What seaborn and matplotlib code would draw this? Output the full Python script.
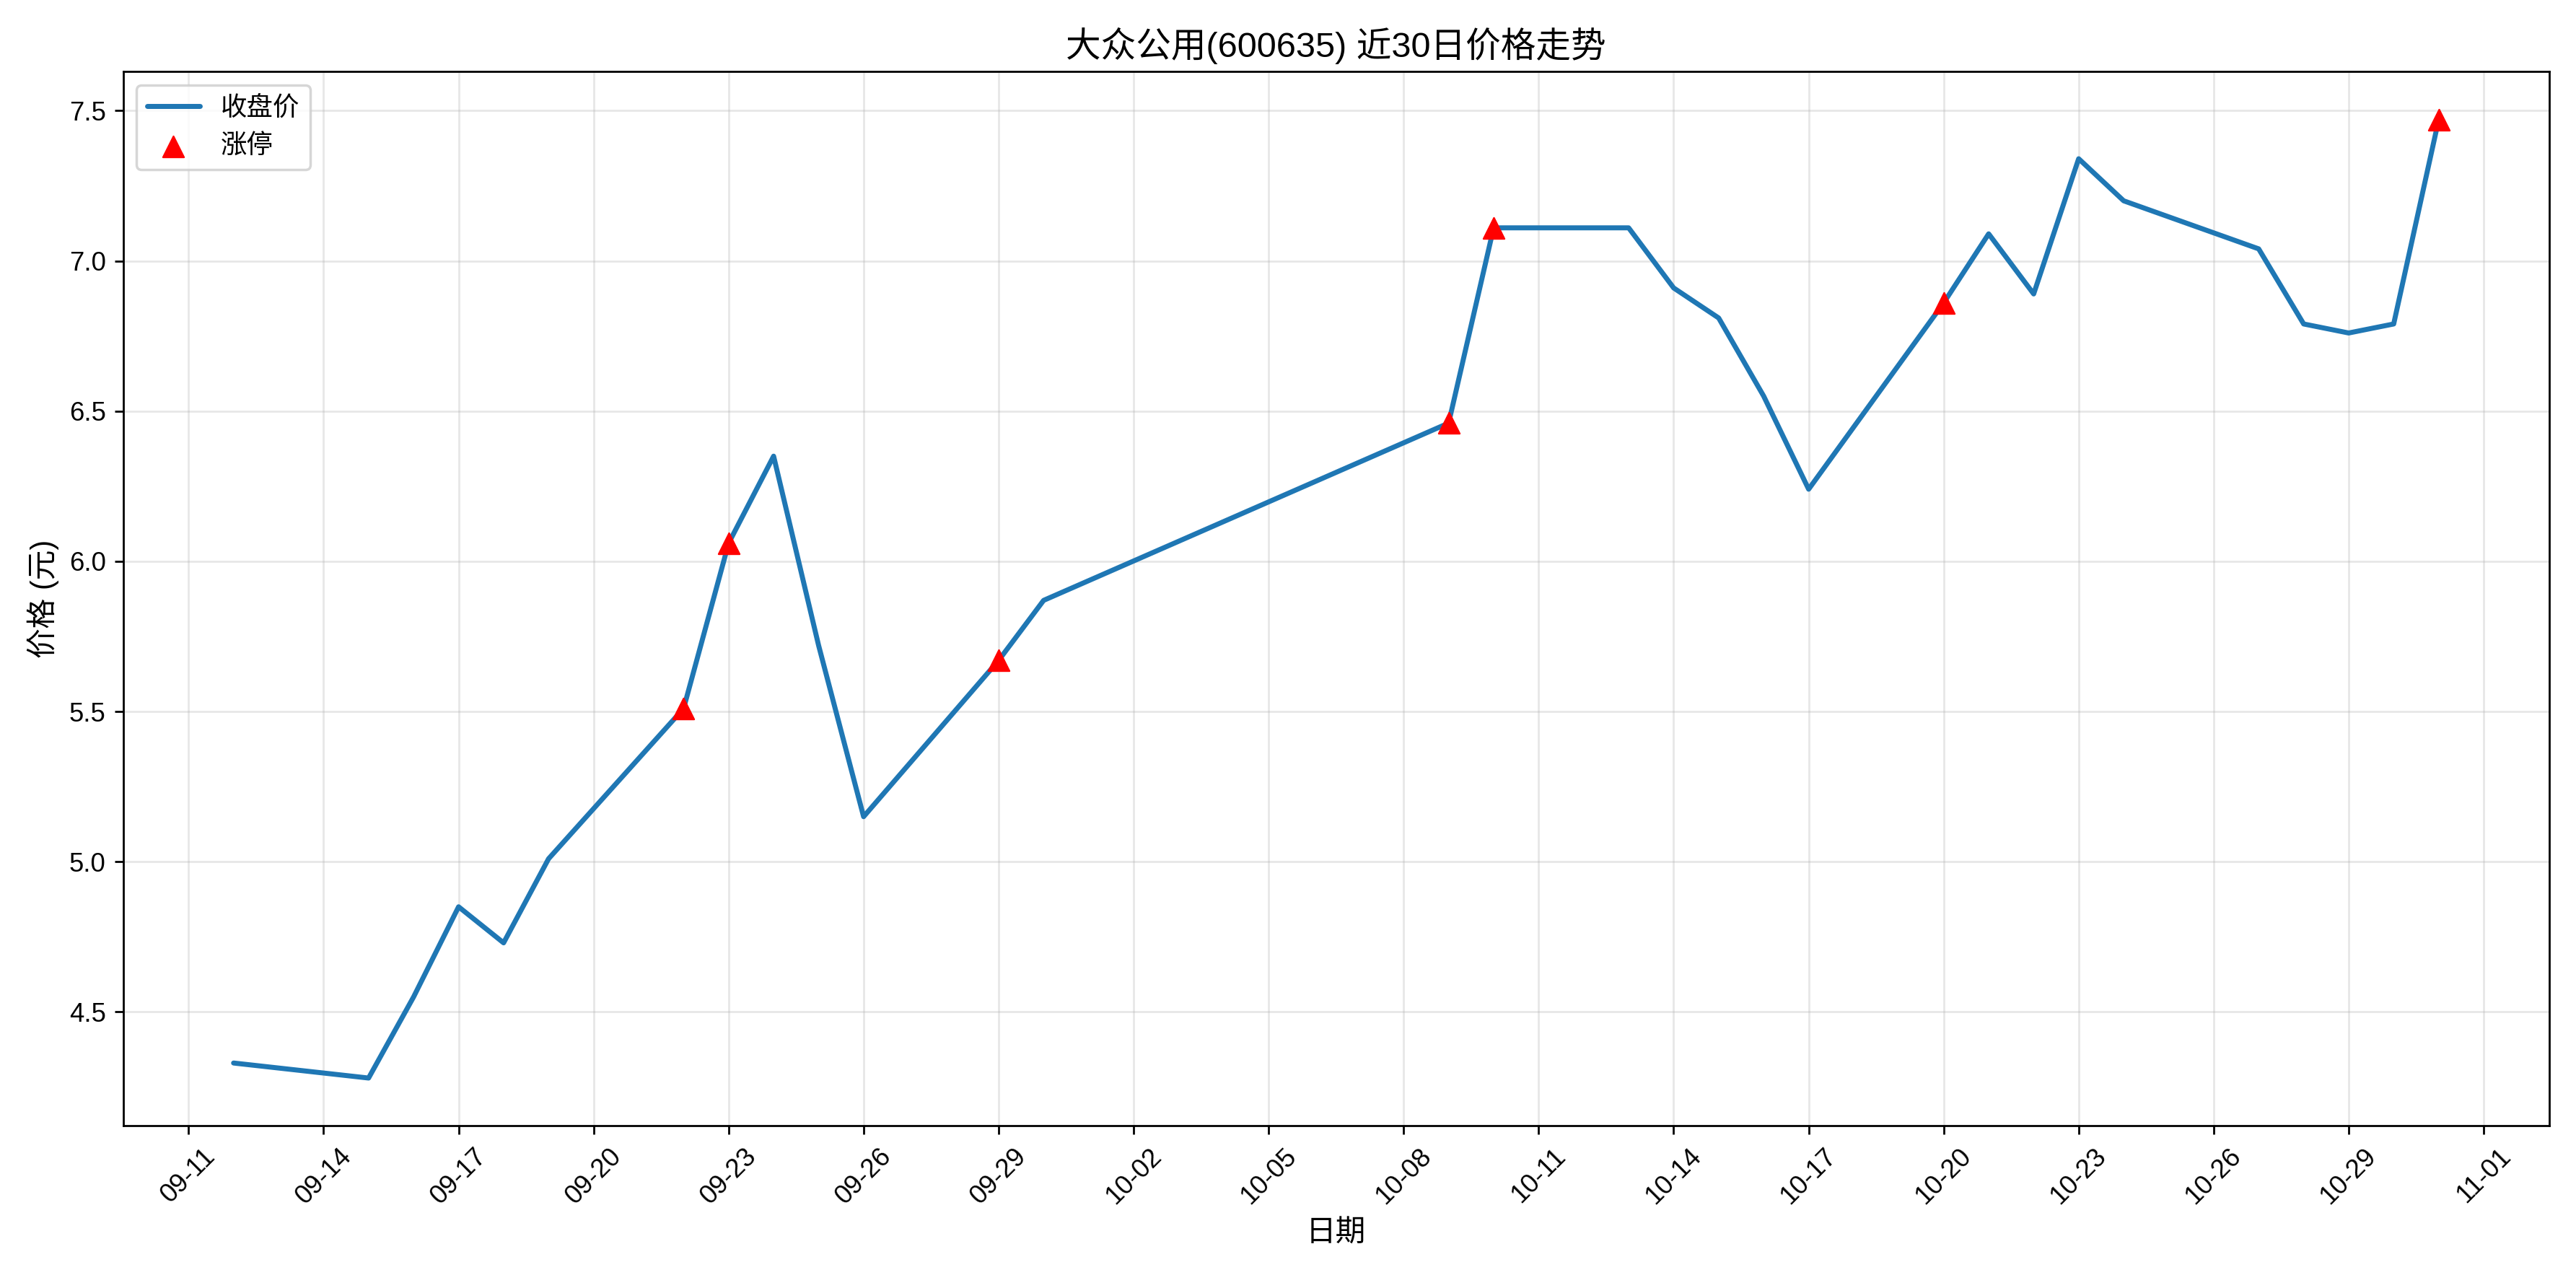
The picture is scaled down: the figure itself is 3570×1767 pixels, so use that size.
import pandas as pd
import matplotlib
matplotlib.use("Agg")
import matplotlib.pyplot as plt
import matplotlib.dates as mdates
import seaborn as sns

dates = ["09-12", "09-15", "09-16", "09-17", "09-18", "09-19", "09-22", "09-23", "09-24", "09-25",
         "09-26", "09-29", "09-30", "10-09", "10-10", "10-13", "10-14", "10-15", "10-16", "10-17",
         "10-20", "10-21", "10-22", "10-23", "10-24", "10-27", "10-28", "10-29", "10-30", "10-31"]
close = [4.33, 4.28, 4.55, 4.85, 4.73, 5.01, 5.51, 6.06, 6.35, 5.72,
         5.15, 5.67, 5.87, 6.46, 7.11, 7.11, 6.91, 6.81, 6.55, 6.24,
         6.86, 7.09, 6.89, 7.34, 7.20, 7.04, 6.79, 6.76, 6.79, 7.47]
limit_up = ["09-22", "09-23", "09-29", "10-09", "10-10", "10-20", "10-31"]

df = pd.DataFrame({"date": pd.to_datetime(["2025-" + d for d in dates]), "close": close})
df["limit"] = [d in limit_up for d in dates]

sns.set_style("ticks")
plt.rcParams["font.family"] = ["Liberation Sans", "Noto Sans CJK SC", "DejaVu Sans"]
plt.rcParams["axes.unicode_minus"] = False
for k in ["text.color", "axes.labelcolor", "xtick.color", "ytick.color"]:
    plt.rcParams[k] = "black"
plt.rcParams["axes.edgecolor"] = "black"

fig, ax = plt.subplots(figsize=(14.28, 7.068), dpi=250)
sns.lineplot(data=df, x="date", y="close", ax=ax, color="#1f77b4", linewidth=2, label="收盘价")
sns.scatterplot(data=df[df["limit"]], x="date", y="close", ax=ax, color="red", marker="^",
                s=70, edgecolor="red", zorder=5, label="涨停")

ax.set_xticks(pd.date_range("2025-09-11", "2025-11-01", freq="3D"))
ax.xaxis.set_major_formatter(mdates.DateFormatter("%m-%d"))
ax.tick_params(labelsize=10.5)
plt.setp(ax.get_xticklabels(), rotation=45)
ax.grid(True, color="#b0b0b0", alpha=0.3)
ax.set_title("大众公用(600635) 近30日价格走势", fontsize=14)
ax.set_xlabel("日期", fontsize=12)
ax.set_ylabel("价格 (元)", fontsize=12)
ax.legend(loc="upper left", fontsize=10.5)
for s in ax.spines.values():
    s.set_visible(True)
plt.tight_layout()
plt.savefig("out.png", dpi=250)
